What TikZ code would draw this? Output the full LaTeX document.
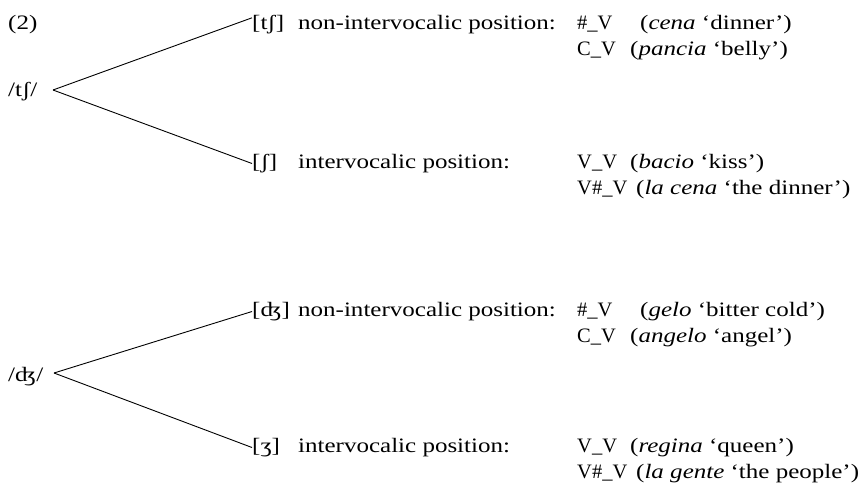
\documentclass[tikz,border=0pt]{standalone}
\usepackage{fontspec}
\setmainfont{Liberation Serif}[FakeStretch=1.22]
\newfontfamily\ctxfont{Liberation Serif}
\begin{document}
\begin{tikzpicture}[x=1pt,y=-1pt,
  every node/.style={inner sep=0pt, font=\fontsize{20.5}{24}\selectfont},
  txt/.style={anchor=base west},
  brk/.style={anchor=base west, text height=13pt, text depth=4pt},
  ctx/.style={anchor=base west, font=\fontsize{20.5}{24}\selectfont\ctxfont},
  branch/.style={line width=0.9pt, black}]
\useasboundingbox (0,0) rectangle (862,495);
% group 1
\node[txt] (ex) at (8,30) {(2)};
\node[txt] (r1) at (8,96) {/tʃ/};
\coordinate (a1) at (53,90);
\node[brk] (b1) at (252,30) {[tʃ]};
\node[txt] (d1) at (298,30) {non-intervocalic position:};
\node[ctx] (c1) at (577,30) {\#\_V};
\node[txt] (g1) at (640,30) {(\textit{cena} ‘dinner’)};
\node[ctx] (c2) at (577,56) {C\_V};
\node[txt] (g2) at (630,56) {(\textit{pancia} ‘belly’)};
\node[brk] (b2) at (252,168) {[ʃ]};
\node[txt] (d2) at (298,168) {intervocalic position:};
\node[ctx] (c3) at (577,168) {V\_V};
\node[txt] (g3) at (630,168) {(\textit{bacio} ‘kiss’)};
\node[ctx] (c4) at (577,194) {V\#\_V};
\node[txt] (g4) at (636,194) {(\textit{la cena} ‘the dinner’)};
\draw[branch] (a1) -- ([yshift=-1pt]b1.north west);
\draw[branch] (a1) -- (b2.west);
% group 2
\node[txt] (r2) at (8,381) {/ʤ/};
\coordinate (a2) at (54,373);
\node[brk] (b3) at (252,316) {[ʤ]};
\node[txt] (d3) at (298,316) {non-intervocalic position:};
\node[ctx] (c5) at (577,316) {\#\_V};
\node[txt] (g5) at (640,316) {(\textit{gelo} ‘bitter cold’)};
\node[ctx] (c6) at (577,342) {C\_V};
\node[txt] (g6) at (630,342) {(\textit{angelo} ‘angel’)};
\node[brk] (b4) at (252,452) {[ʒ]};
\node[txt] (d4) at (298,452) {intervocalic position:};
\node[ctx] (c7) at (577,452) {V\_V};
\node[txt] (g7) at (630,452) {(\textit{regina} ‘queen’)};
\node[ctx] (c8) at (577,478) {V\#\_V};
\node[txt] (g8) at (636,478) {(\textit{la gente} ‘the people’)};
\draw[branch] (a2) -- (b3.west);
\draw[branch] (a2) -- (b4.west);
\end{tikzpicture}
\end{document}
